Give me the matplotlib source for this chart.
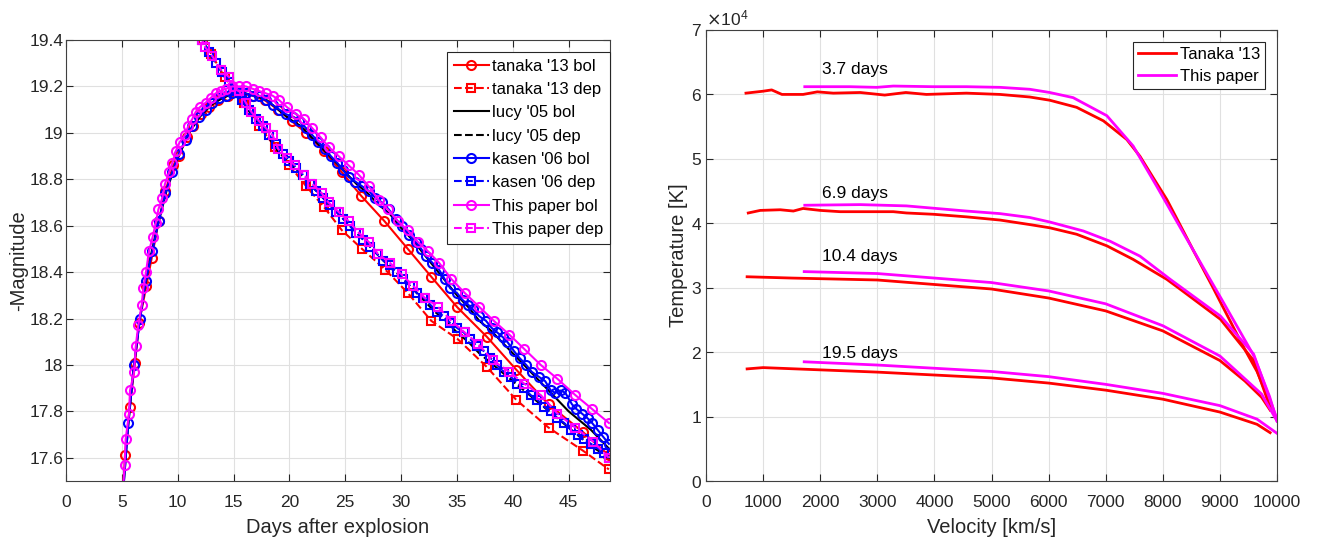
import numpy as np
import matplotlib
matplotlib.use('Agg')
import matplotlib.pyplot as plt
from matplotlib.ticker import ScalarFormatter

# ---------------- left panel: light curves ----------------
# This paper, bolometric
paper_bol_t = [5.0, 5.25, 5.34, 5.64, 5.73, 6.1, 6.24, 6.47, 6.78, 6.92, 7.16, 7.43, 7.75, 8.03, 8.27,
               8.62, 8.86, 9.22, 9.52, 9.82, 10.18, 10.65, 10.95, 11.31, 11.61, 11.97, 12.5, 12.95, 13.4,
               13.85, 14.3, 14.9, 15.5, 16.1, 16.7, 17.3, 17.9, 18.5, 19.1, 19.8, 20.6, 21.3, 22.05, 22.8,
               23.5, 24.4, 25.3, 26.2, 27.1, 28.0, 28.8, 29.7, 30.6, 31.5, 32.4, 33.4, 34.5, 35.7, 37.0,
               38.3, 39.7, 41.0, 42.5, 44.0, 45.6, 47.1, 48.6]
paper_bol_m = [17.40, 17.57, 17.68, 17.79, 17.89, 17.97, 18.08, 18.17, 18.26, 18.33, 18.40, 18.49, 18.55,
               18.61, 18.67, 18.72, 18.78, 18.83, 18.87, 18.92, 18.96, 18.99, 19.03, 19.06, 19.09, 19.11,
               19.13, 19.15, 19.17, 19.18, 19.19, 19.20, 19.20, 19.20, 19.19, 19.18, 19.17, 19.16, 19.14,
               19.11, 19.08, 19.06, 19.02, 18.98, 18.94, 18.90, 18.86, 18.82, 18.77, 18.71, 18.67, 18.62,
               18.58, 18.53, 18.49, 18.44, 18.37, 18.31, 18.25, 18.19, 18.13, 18.07, 18.00, 17.94, 17.87,
               17.81, 17.75]

# This paper, deposition
paper_dep_t = [11.6, 12.2, 12.44, 13.1, 13.9, 14.6, 15.5, 16.1, 16.6, 17.3, 17.9, 18.5, 19.0, 19.8, 20.5,
               21.3, 22.05, 22.9, 23.5, 24.4, 25.3, 26.2, 27.1, 27.9, 29.0, 30.05, 31.1, 32.1, 33.3, 34.5,
               35.7, 36.9, 38.2, 39.7, 41.0, 42.5, 44.0, 45.6, 47.2, 48.6]
paper_dep_m = [19.46, 19.40, 19.37, 19.33, 19.27, 19.24, 19.18, 19.13, 19.09, 19.05, 19.02, 18.99, 18.93,
               18.89, 18.86, 18.82, 18.78, 18.74, 18.70, 18.66, 18.62, 18.57, 18.53, 18.48, 18.44, 18.39,
               18.34, 18.29, 18.25, 18.19, 18.14, 18.09, 18.02, 17.97, 17.92, 17.87, 17.79, 17.73, 17.67,
               17.60]

# Tanaka '13
tanaka_bol_t = [5.0, 5.28, 5.7, 6.18, 6.54, 7.19, 7.67, 8.3, 8.9, 9.6, 10.1, 10.8, 11.4, 12.06, 12.8,
                13.6, 14.5, 15.6, 16.7, 17.8, 19.0, 20.2, 21.5, 23.1, 24.7, 26.4, 28.5, 30.6, 32.7, 35.0,
                37.7, 40.3, 43.2, 46.3, 48.6]
tanaka_bol_m = [17.35, 17.61, 17.82, 18.01, 18.18, 18.34, 18.46, 18.62, 18.75, 18.86, 18.90, 18.98, 19.03,
                19.08, 19.11, 19.14, 19.16, 19.17, 19.16, 19.14, 19.10, 19.05, 19.00, 18.92, 18.83, 18.73,
                18.62, 18.50, 18.38, 18.25, 18.12, 17.98, 17.83, 17.71, 17.61]
tanaka_dep_t = [11.6, 12.3, 13.0, 14.2, 15.9, 17.3, 18.7, 20.0, 21.5, 23.1, 24.7, 26.5, 28.6, 30.6, 32.7,
                35.1, 37.7, 40.3, 43.2, 46.3, 48.6]
tanaka_dep_m = [19.45, 19.40, 19.34, 19.24, 19.13, 19.03, 18.94, 18.86, 18.77, 18.68, 18.58, 18.50, 18.41,
                18.31, 18.19, 18.11, 17.99, 17.85, 17.73, 17.63, 17.55]

# Lucy '05
lucy_bol_t = [5.0, 5.5, 6.0, 6.5, 7.0, 7.5, 8.0, 9.0, 10.0, 11.0, 12.0, 13.0, 14.0, 15.0, 16.0, 17.0,
              18.0, 19.0, 20.0, 21.0, 22.0, 23.0, 24.0, 25.0, 26.0, 27.0, 28.0, 29.0, 30.0, 31.0, 32.0,
              33.0, 34.0, 35.0, 36.0, 37.0, 38.0, 39.0, 40.0, 41.0, 42.0, 43.0, 44.0, 45.0, 46.0, 47.0,
              48.0, 48.6]
lucy_bol_m = [17.38, 17.70, 17.96, 18.16, 18.32, 18.45, 18.56, 18.75, 18.89, 19.00, 19.07, 19.12, 19.15,
              19.17, 19.17, 19.16, 19.14, 19.10, 19.06, 19.03, 18.98, 18.93, 18.88, 18.83, 18.78, 18.74,
              18.69, 18.65, 18.59, 18.54, 18.48, 18.42, 18.36, 18.30, 18.25, 18.19, 18.15, 18.10, 18.05,
              18.00, 17.95, 17.90, 17.85, 17.80, 17.76, 17.72, 17.67, 17.64]
lucy_dep_t = [11.6, 13.0, 14.0, 15.0, 16.0, 17.0, 18.0, 19.0, 20.0, 21.0, 22.0, 23.0, 24.0, 25.0, 26.0,
              27.0, 28.0, 29.0, 30.0, 31.0, 32.0, 33.0, 34.0, 35.0, 36.0, 37.0, 38.0, 39.0, 40.0, 41.0,
              42.0, 43.0, 44.0, 45.0, 46.0, 47.0, 48.0, 48.6]
lucy_dep_m = [19.46, 19.33, 19.26, 19.19, 19.12, 19.05, 18.99, 18.92, 18.87, 18.82, 18.77, 18.72, 18.67,
              18.62, 18.57, 18.52, 18.47, 18.42, 18.38, 18.33, 18.28, 18.23, 18.19, 18.14, 18.10, 18.05,
              18.01, 17.97, 17.93, 17.89, 17.85, 17.81, 17.77, 17.73, 17.69, 17.65, 17.62, 17.60]

# Kasen '06 (Monte Carlo, noisy)
kasen_bol_t = [5.0, 5.58, 6.09, 6.63, 7.13, 7.73, 8.3, 8.9, 9.5, 10.1, 10.7, 11.3, 11.9, 12.5, 13.1, 13.7,
               14.3, 14.9, 15.5, 16.1, 16.7, 17.3, 17.9, 18.5, 19.1, 19.7, 20.3, 20.9, 21.5, 22.05, 22.6,
               23.2, 23.7, 24.3, 24.8, 25.3, 25.9, 26.5, 27.1, 27.7, 28.3, 28.9, 29.5, 30.1, 30.7, 31.3,
               31.8, 32.2, 32.8, 33.4, 33.9, 34.4, 35.0, 35.5, 36.0, 36.4, 37.0, 37.6, 38.1, 38.6, 39.1,
               39.5, 40.1, 40.6, 41.2, 41.7, 42.3, 42.9, 43.4, 43.8, 44.3, 44.7, 45.3, 45.7, 46.2, 46.7,
               47.1, 47.6, 48.1, 48.6]
kasen_bol_m = [17.38, 17.75, 18.00, 18.20, 18.36, 18.49, 18.62, 18.74, 18.83, 18.91, 18.97, 19.03, 19.07,
               19.10, 19.13, 19.15, 19.16, 19.17, 19.17, 19.17, 19.16, 19.16, 19.14, 19.12, 19.10, 19.08,
               19.07, 19.05, 19.02, 18.99, 18.96, 18.93, 18.90, 18.87, 18.84, 18.81, 18.79, 18.77, 18.75,
               18.72, 18.70, 18.67, 18.63, 18.60, 18.56, 18.53, 18.50, 18.47, 18.44, 18.41, 18.37, 18.33,
               18.31, 18.28, 18.26, 18.24, 18.21, 18.19, 18.16, 18.14, 18.12, 18.10, 18.06, 18.03, 18.00,
               17.97, 17.95, 17.93, 17.89, 17.88, 17.89, 17.88, 17.83, 17.81, 17.79, 17.77, 17.75, 17.72,
               17.69, 17.66]
kasen_dep_t = [11.6, 12.2, 12.8, 13.4, 14.0, 14.6, 15.2, 15.8, 16.4, 17.0, 17.6, 18.2, 18.8, 19.4, 20.0,
               20.6, 21.2, 21.8, 22.4, 23.0, 23.6, 24.2, 24.8, 25.4, 26.0, 26.6, 27.2, 27.8, 28.4, 29.0,
               29.6, 30.2, 30.8, 31.4, 32.0, 32.6, 33.2, 33.8, 34.4, 35.0, 35.6, 36.2, 36.8, 37.4, 38.0,
               38.6, 39.2, 39.8, 40.4, 41.0, 41.6, 42.2, 42.8, 43.4, 44.0, 44.6, 45.2, 45.8, 46.4, 47.0,
               47.6, 48.2, 48.6]
kasen_dep_m = [19.46, 19.40, 19.35, 19.30, 19.26, 19.22, 19.18, 19.14, 19.10, 19.06, 19.03, 18.99, 18.95,
               18.91, 18.88, 18.85, 18.82, 18.78, 18.75, 18.72, 18.69, 18.66, 18.63, 18.60, 18.57, 18.54,
               18.51, 18.48, 18.45, 18.43, 18.40, 18.37, 18.34, 18.31, 18.29, 18.26, 18.23, 18.21, 18.18,
               18.16, 18.14, 18.11, 18.08, 18.06, 18.03, 18.00, 17.97, 17.95, 17.92, 17.90, 17.87, 17.85,
               17.82, 17.80, 17.77, 17.75, 17.72, 17.70, 17.68, 17.66, 17.64, 17.62, 17.60]

# ---------------- right panel: temperature profiles ----------------
epoch_labels = ['3.7 days', '6.9 days', '10.4 days', '19.5 days']

tanaka_v = [
    [700, 1000, 1150, 1330, 1700, 1950, 2230, 2700, 3130, 3500, 3860, 4560, 5150, 5670, 6020, 6490, 6960,
     7370, 7600, 7830, 8070, 8300, 8540, 8880, 9030, 9450, 9650, 9800, 9880],
    [740, 950, 1300, 1530, 1700, 2000, 2350, 2810, 3280, 3510, 3980, 4560, 5150, 5670, 6020, 6490, 7020,
     7480, 8070, 8300, 9010, 9590, 9880],
    [720, 1500, 3000, 5000, 6000, 7000, 8000, 9000, 9440, 9730, 9880],
    [720, 1000, 3000, 5000, 6000, 7000, 8000, 9000, 9650, 9880],
]
tanaka_T = [
    [60200, 60500, 60700, 60000, 60000, 60400, 60200, 60300, 59900, 60300, 60000, 60200, 60000, 59600,
     59100, 58000, 55900, 53000, 50400, 47100, 43700, 39800, 35700, 30000, 27400, 20200, 17000, 13800,
     11200],
    [41600, 42000, 42100, 41900, 42300, 42000, 41800, 41800, 41800, 41600, 41400, 41000, 40500, 39800,
     39300, 38300, 36500, 34400, 31300, 29800, 25100, 18700, 11400],
    [31700, 31500, 31200, 29800, 28400, 26400, 23300, 18700, 15500, 13000, 11000],
    [17400, 17600, 16900, 16000, 15200, 14100, 12700, 10700, 8800, 7500],
]
paper_v = [
    [1730, 2520, 2990, 3280, 3980, 4560, 5150, 5670, 6020, 6430, 7020, 7480, 7890, 8360, 8880, 9030, 9590,
     9870, 10000],
    [1730, 2700, 3510, 4560, 5150, 5670, 6020, 6610, 7080, 7600, 8130, 8300, 9010, 9590, 10000],
    [1720, 3000, 5000, 6000, 7000, 8000, 9000, 9730, 10000],
    [1720, 3000, 5000, 6000, 7000, 8000, 9000, 9650, 10000],
]
paper_T = [
    [61200, 61200, 61100, 61300, 61200, 61200, 61100, 60800, 60300, 59500, 56700, 52000, 45800, 38500,
     30500, 28200, 19500, 13100, 9300],
    [42800, 42900, 42700, 41900, 41500, 40900, 40200, 38800, 37200, 34900, 31300, 30200, 25600, 19700,
     9600],
    [32500, 32200, 30800, 29500, 27500, 24100, 19400, 13500, 9300],
    [18500, 18000, 17000, 16200, 15000, 13600, 11700, 9600, 7400],
]
label_v = [2030, 2030, 2030, 2030]
label_T = [63900, 44700, 34800, 19800]

# ---------------- style ----------------
plt.rcParams['font.family'] = ['Liberation Sans', 'DejaVu Sans']
plt.rcParams['axes.edgecolor'] = '#404040'
plt.rcParams['xtick.color'] = '#262626'
plt.rcParams['ytick.color'] = '#262626'

RED, BLUE, MAG = '#ff0000', '#0000ff', '#ff00ff'
tick_kw = dict(direction='in', top=True, right=True, labelsize=12.5, length=5, width=0.8)

fig = plt.figure(figsize=(13.35, 5.42), dpi=100)
ax1 = fig.add_axes([66 / 1335, 61 / 542, 544 / 1335, 441 / 542])
ax2 = fig.add_axes([706 / 1335, 61 / 542, 571 / 1335, 451 / 542])

circ = dict(marker='o', markersize=6.5, markerfacecolor='none', markeredgewidth=1.5)
sq = dict(marker='s', markersize=5.5, markerfacecolor='none', markeredgewidth=1.5)

ax1.plot(tanaka_bol_t, tanaka_bol_m, '-', color=RED, lw=1.5, label="tanaka '13 bol", **circ)
ax1.plot(tanaka_dep_t, tanaka_dep_m, '--', color=RED, lw=1.5, label="tanaka '13 dep", **sq)
ax1.plot(lucy_bol_t, lucy_bol_m, '-', color='k', lw=1.5, label="lucy '05 bol")
ax1.plot(lucy_dep_t, lucy_dep_m, '--', color='k', lw=1.5, label="lucy '05 dep")
ax1.plot(kasen_bol_t, kasen_bol_m, '-', color=BLUE, lw=1.5, label="kasen '06 bol", **circ)
ax1.plot(kasen_dep_t, kasen_dep_m, '--', color=BLUE, lw=1.5, label="kasen '06 dep", **sq)
ax1.plot(paper_bol_t, paper_bol_m, '-', color=MAG, lw=1.5, label='This paper bol', **circ)
ax1.plot(paper_dep_t, paper_dep_m, '--', color=MAG, lw=1.5, label='This paper dep', **sq)

ax1.set_xlim(0, 48.7)
ax1.set_ylim(17.5, 19.4)
ax1.set_xticks(np.arange(0, 46, 5))
ax1.set_yticks([17.6, 17.8, 18, 18.2, 18.4, 18.6, 18.8, 19, 19.2, 19.4])
ax1.set_yticklabels(['17.6', '17.8', '18', '18.2', '18.4', '18.6', '18.8', '19', '19.2', '19.4'])
ax1.set_xlabel('Days after explosion', fontsize=14.5, color='#262626', labelpad=6)
ax1.set_ylabel('-Magnitude', fontsize=14.5, color='#262626', labelpad=1)
ax1.grid(True, color='#e0e0e0', lw=0.8)
ax1.set_axisbelow(True)
ax1.tick_params(**tick_kw)
ax1.tick_params(axis='x', pad=10)
ax1.tick_params(axis='y', pad=2)
leg1 = ax1.legend(loc='upper right', bbox_to_anchor=(1.0, 1 - 12 / 441), borderaxespad=0,
                  fontsize=12, handlelength=2.1, labelspacing=0.5, fancybox=False,
                  framealpha=1, edgecolor='#262626', borderpad=0.4, handletextpad=0.2)
leg1.get_frame().set_linewidth(0.8)

for k in range(4):
    ax2.plot(tanaka_v[k], tanaka_T[k], color=RED, lw=2, label="Tanaka '13" if k == 0 else None)
    ax2.plot(paper_v[k], paper_T[k], color=MAG, lw=2, label='This paper' if k == 0 else None)
    ax2.text(label_v[k], label_T[k], epoch_labels[k], fontsize=12.5, va='center', ha='left')

ax2.set_xlim(0, 10000)
ax2.set_ylim(0, 70000)
ax2.set_xticks(np.arange(0, 10001, 1000))
ax2.set_yticks(np.arange(0, 70001, 10000))
fmt = ScalarFormatter(useMathText=True)
fmt.set_powerlimits((0, 0))
ax2.yaxis.set_major_formatter(fmt)
ax2.yaxis.get_offset_text().set_fontsize(12.5)
ax2.set_xlabel('Velocity [km/s]', fontsize=14.5, color='#262626', labelpad=6)
ax2.set_ylabel('Temperature [K]', fontsize=14.5, color='#262626', labelpad=2)
ax2.grid(True, color='#e0e0e0', lw=0.8)
ax2.set_axisbelow(True)
ax2.tick_params(**tick_kw)
ax2.tick_params(axis='x', pad=10)
ax2.tick_params(axis='y', pad=3)
leg2 = ax2.legend(loc='upper right', borderaxespad=0.7, fontsize=12, handlelength=2.3,
                  labelspacing=0.45, fancybox=False, framealpha=1, edgecolor='#262626',
                  borderpad=0.3, handletextpad=0.25)
leg2.get_frame().set_linewidth(0.8)

fig.savefig('out.png', dpi=100)
